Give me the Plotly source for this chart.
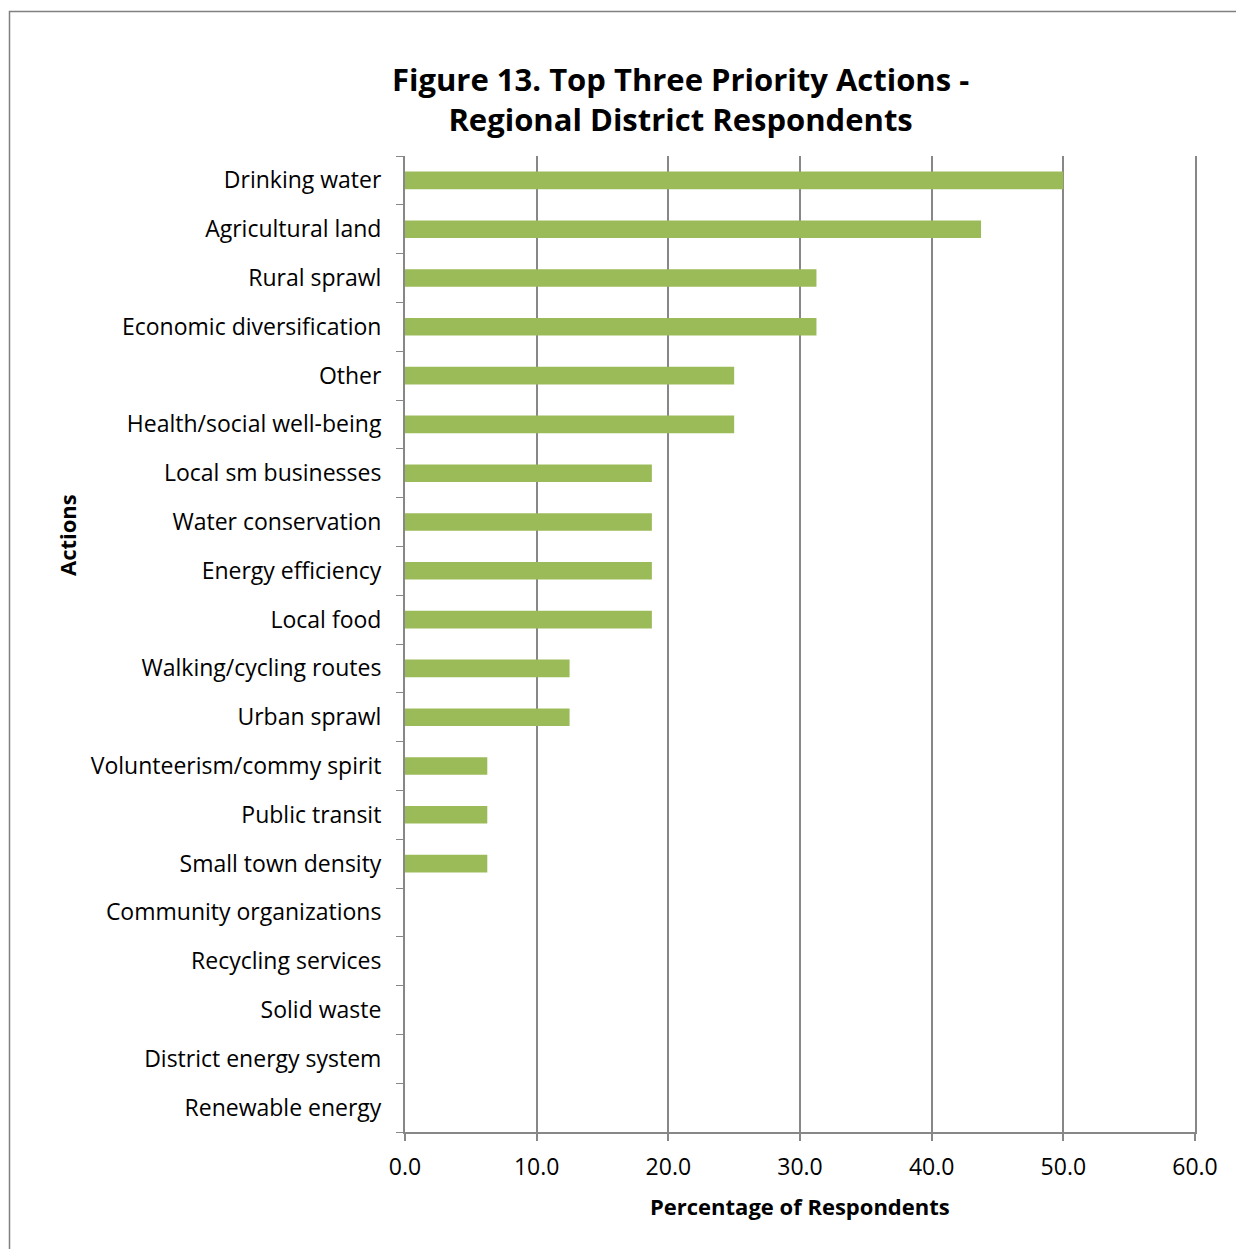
import plotly.graph_objects as go

# Survey results: share of regional district respondents naming each action in their top three
actions = [
    "Drinking water", "Agricultural land", "Rural sprawl", "Economic diversification",
    "Other", "Health/social well-being", "Local sm businesses", "Water conservation",
    "Energy efficiency", "Local food", "Walking/cycling routes", "Urban sprawl",
    "Volunteerism/commy spirit", "Public transit", "Small town density",
    "Community organizations", "Recycling services", "Solid waste",
    "District energy system", "Renewable energy",
]
percent = [
    50.0, 43.75, 31.25, 31.25,
    25.0, 25.0, 18.75, 18.75,
    18.75, 18.75, 12.5, 12.5,
    6.25, 6.25, 6.25,
    0.0, 0.0, 0.0,
    0.0, 0.0,
]
x_ticks = [0, 10, 20, 30, 40, 50, 60]
x_tick_labels = ["0.0", "10.0", "20.0", "30.0", "40.0", "50.0", "60.0"]

W, H = 1236, 1249
L, R, T, B = 405, 41, 156, 117
pw, ph = W - L - R, H - T - B


def px(x):
    return (x - L) / pw


def py(y):
    return (H - B - y) / ph


FONT = "Open Sans"
GRID = "#878787"

fig = go.Figure(
    go.Bar(
        x=percent,
        y=actions,
        orientation="h",
        marker=dict(color="#9BBB59", line=dict(width=0)),
        width=0.36,
    )
)

fig.update_layout(
    width=W,
    height=H,
    margin=dict(l=L, r=R, t=T, b=B),
    paper_bgcolor="white",
    plot_bgcolor="white",
    showlegend=False,
    font=dict(family=FONT, color="black"),
    xaxis=dict(
        range=[0, 60],
        tickvals=x_ticks,
        ticktext=x_tick_labels,
        showgrid=True,
        gridcolor=GRID,
        gridwidth=2,
        zeroline=False,
        showline=True,
        linecolor=GRID,
        linewidth=2,
        ticks="outside",
        ticklen=7,
        tickwidth=2,
        tickcolor=GRID,
        ticklabelstandoff=6,
        tickfont=dict(size=23, family=FONT),
    ),
    yaxis=dict(
        categoryorder="array",
        categoryarray=actions[::-1],
        showgrid=False,
        zeroline=False,
        showline=True,
        mirror=True,
        linecolor=GRID,
        linewidth=2,
        ticks="outside",
        tickson="boundaries",
        ticklen=7,
        tickwidth=1,
        tickcolor=GRID,
        ticklabelstandoff=17,
        tickfont=dict(size=23, family=FONT),
    ),
    annotations=[
        dict(
            text="<b>Figure 13. Top Three Priority Actions -<br>Regional District Respondents</b>",
            x=px(680), y=py(99), xref="paper", yref="paper",
            xanchor="center", yanchor="middle", showarrow=False,
            font=dict(size=31, family=FONT), align="center",
        ),
        dict(
            text="<b>Actions</b>",
            x=px(67), y=py(535), xref="paper", yref="paper",
            xanchor="center", yanchor="middle", showarrow=False, textangle=-90,
            font=dict(size=22, family=FONT),
        ),
        dict(
            text="<b>Percentage of Respondents</b>",
            x=px(800), y=py(1206), xref="paper", yref="paper",
            xanchor="center", yanchor="middle", showarrow=False,
            font=dict(size=22, family=FONT),
        ),
    ],
    shapes=[
        dict(
            type="rect", xref="paper", yref="paper",
            x0=px(9.5), x1=px(1260), y0=py(1270), y1=py(11.5),
            line=dict(color="#808080", width=1.5), fillcolor="rgba(0,0,0,0)",
            layer="below",
        ),
    ],
)

fig.write_html("out.html")
